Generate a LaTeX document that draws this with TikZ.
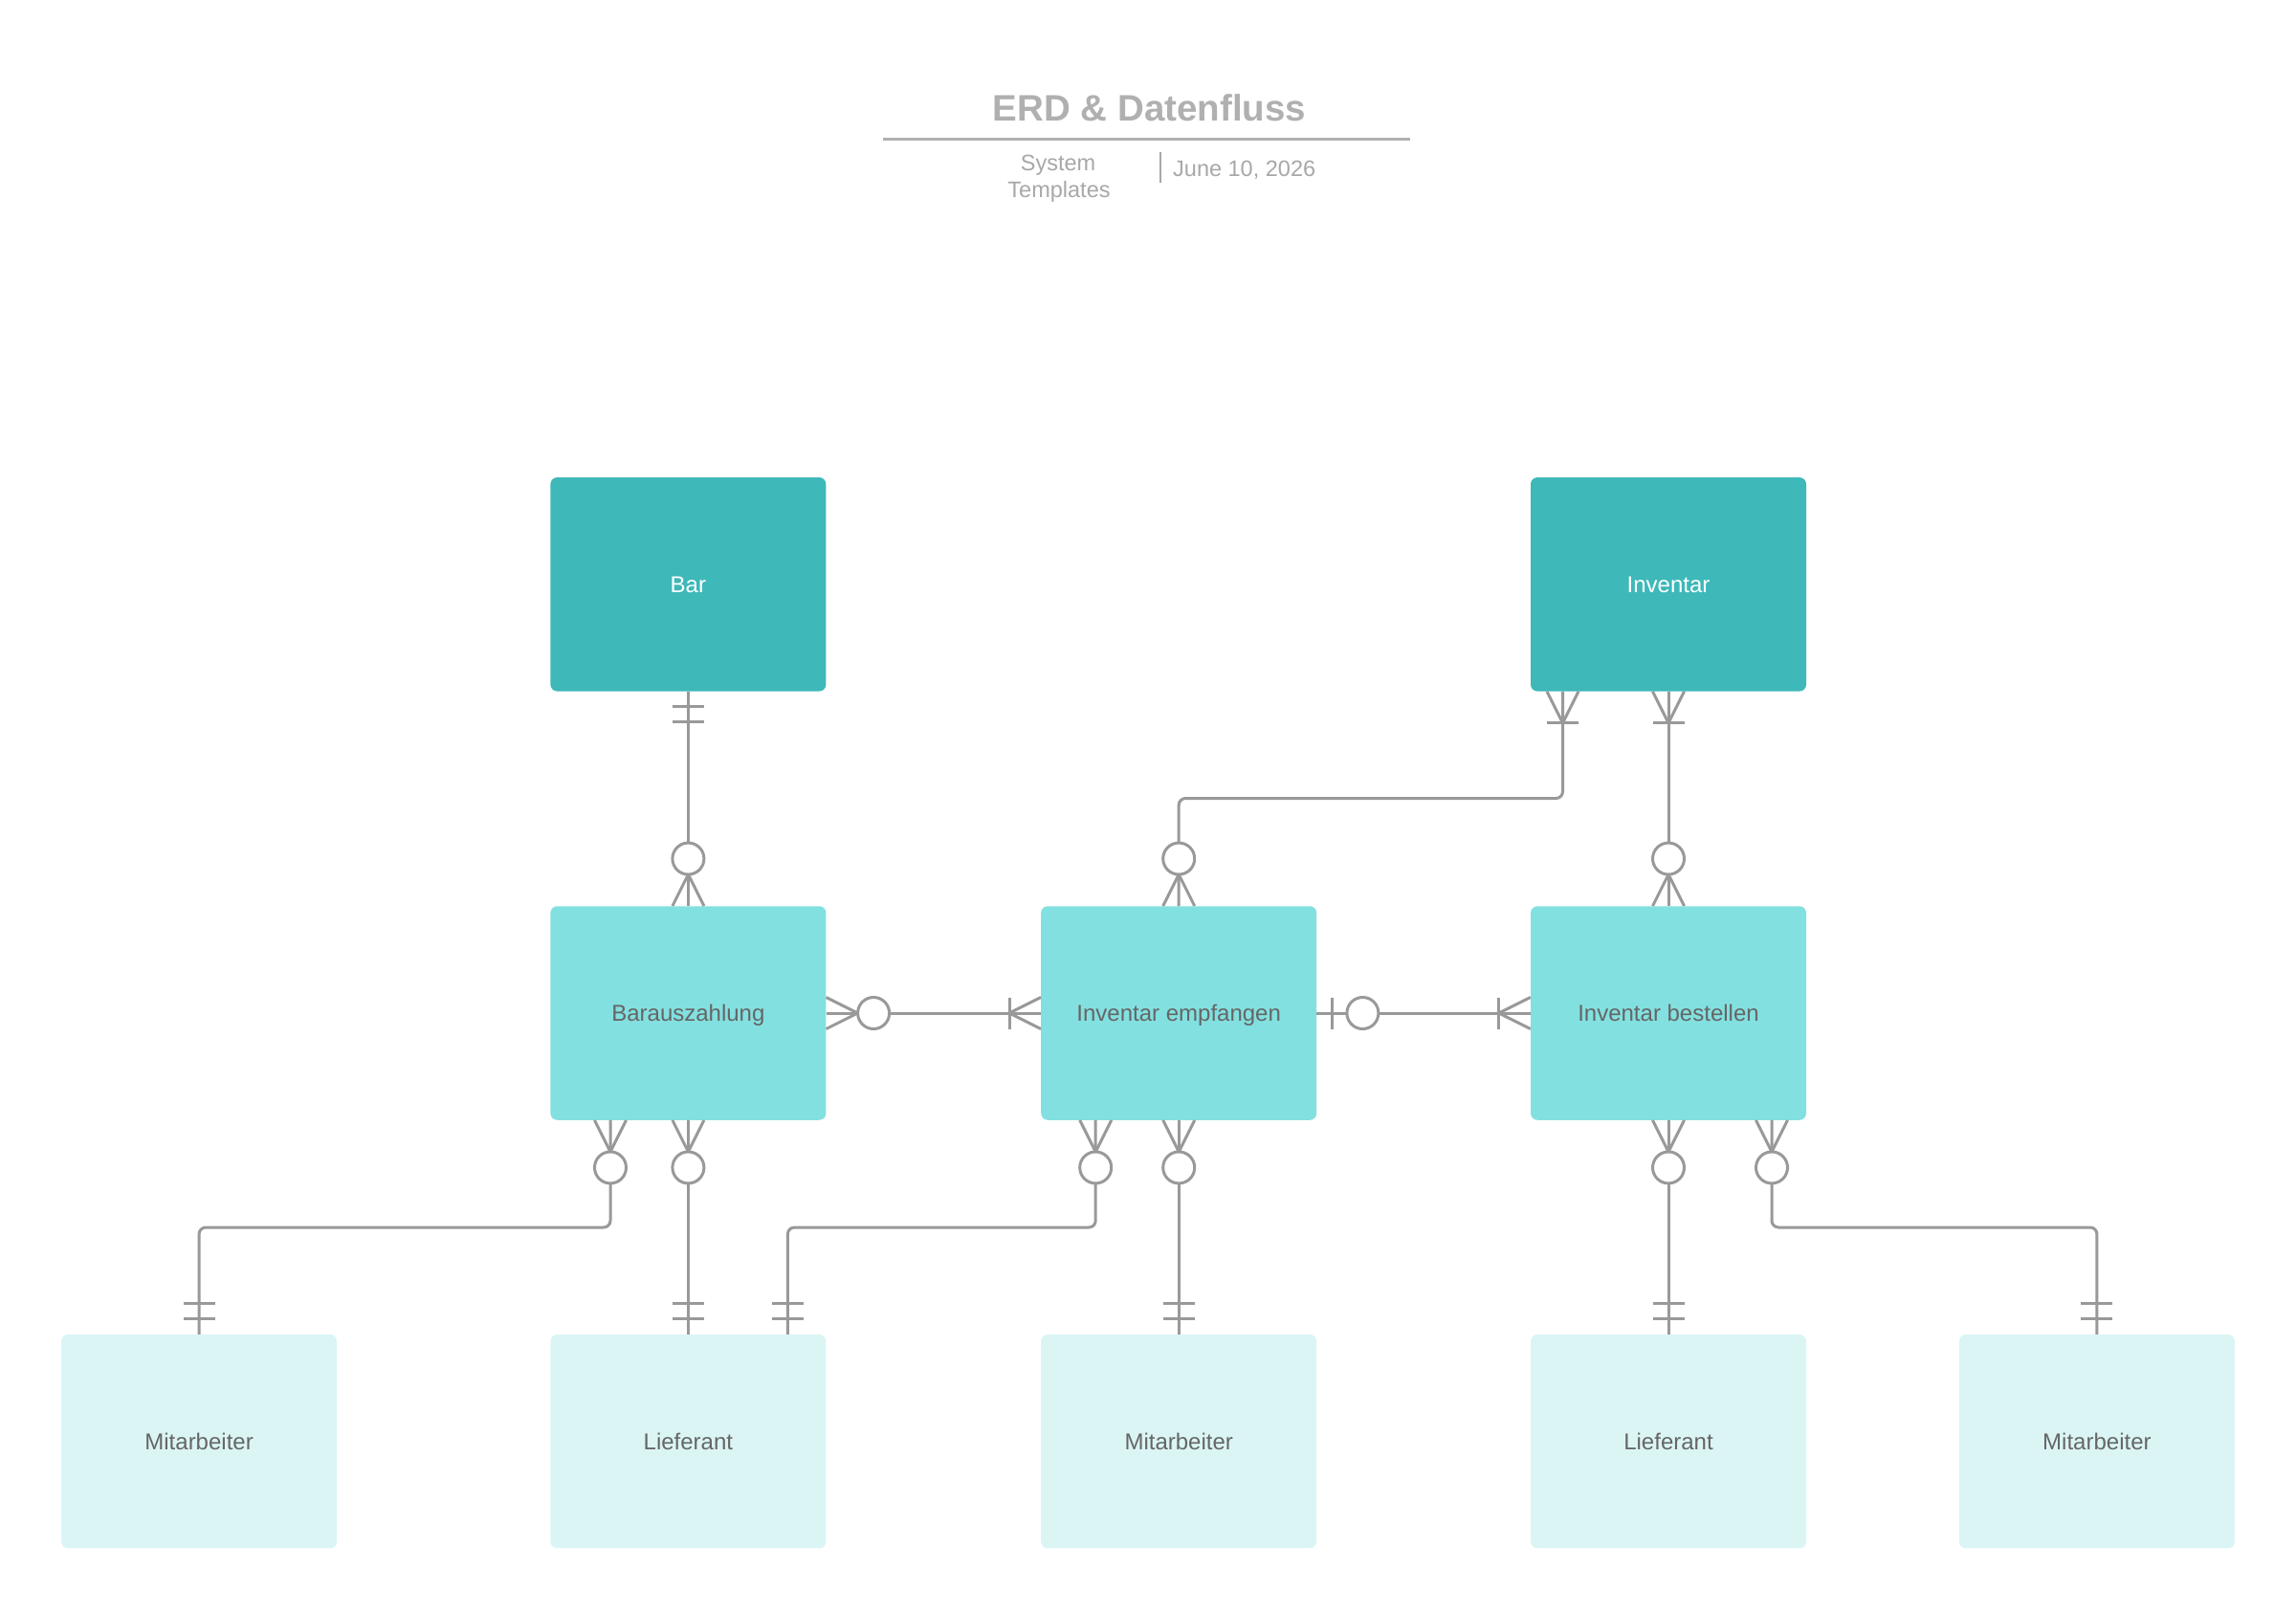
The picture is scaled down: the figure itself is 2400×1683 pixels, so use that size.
\documentclass[tikz,border=0pt]{standalone}
\usepackage{fontspec}
\setmainfont{Liberation Sans}
\usetikzlibrary{calc}
\definecolor{lc}{HTML}{999999}
\definecolor{tealD}{HTML}{3EB8B9}
\definecolor{tealM}{HTML}{83E0E0}
\definecolor{tealL}{HTML}{DBF5F5}
\definecolor{txtD}{HTML}{666666}
\definecolor{titleC}{HTML}{B0B0B0}
\definecolor{subC}{HTML}{A8A8A8}
\tikzset{
  conn/.style={draw=lc, line width=3pt},
  entbox/.style={rectangle, rounded corners=7pt, minimum width=288pt, minimum height=223.5pt, inner sep=0pt, text height=17pt, text depth=0pt, font=\fontsize{24}{28}\selectfont},
  entDark/.style={entbox, fill=tealD, text=white},
  entMid/.style={entbox, fill=tealM, text=txtD},
  entLight/.style={entbox, fill=tealL, text=txtD},
  subtxt/.style={font=\fontsize{23.5}{28}\selectfont, text=subC, inner sep=0pt},
  pics/erOneOnly/.style={code={
    \draw[conn] (16,-16.5) -- (16,16.5) (32,-16.5) -- (32,16.5);
  }},
  pics/erZeroMany/.style={code={
    \draw[conn] (0,16.5) -- (33,0) -- (0,-16.5);
    \draw[conn, fill=white] (49.5,0) circle[radius=16.5pt];
  }},
  pics/erOneMany/.style={code={
    \draw[conn] (0,16.5) -- (33,0) -- (0,-16.5);
    \draw[conn] (33,-16.5) -- (33,16.5);
  }},
  pics/erZeroOne/.style={code={
    \draw[conn] (16,-16.5) -- (16,16.5);
    \draw[conn, fill=white] (48,0) circle[radius=16.5pt];
  }},
}
\begin{document}
\begin{tikzpicture}[x=1pt,y=-1pt]
\fill[white] (0,0) rectangle (2400,1683);
\useasboundingbox (0,0) rectangle (2400,1683);

% title block
\node[font=\bfseries\fontsize{38.5}{42}\selectfont, text=titleC, anchor=base, inner sep=0pt] (title) at (1201.5,127) {ERD \& Datenfluss};
\coordinate (tl1) at (923,145.4);
\coordinate (tl2) at (1474,145.4);
\draw[draw=titleC, line width=3pt] (tl1) -- (tl2);
\node[subtxt, anchor=base] (sub1) at (1106,178.3) {System};
\node[subtxt, anchor=base] (sub2) at (1107,206.5) {Templates};
\coordinate (dv1) at (1213,159);
\coordinate (dv2) at (1213,190.7);
\draw[draw=subC, line width=2pt] (dv1) -- (dv2);
\node[subtxt, anchor=base west] (date) at (1226,184) {June 10, 2026};

% entities
\node[entDark] (bar) at (719.4,610.8) {Bar};
\node[entDark] (inv) at (1744,610.8) {Inventar};
\node[entMid] (bza) at (719.4,1059) {Barauszahlung};
\node[entMid] (emp) at (1232.2,1059) {Inventar empfangen};
\node[entMid] (bes) at (1744,1059) {Inventar bestellen};
\node[entLight] (m1) at (208.1,1506.7) {Mitarbeiter};
\node[entLight] (l1) at (719.4,1506.7) {Lieferant};
\node[entLight] (m2) at (1232.2,1506.7) {Mitarbeiter};
\node[entLight] (l2) at (1744,1506.7) {Lieferant};
\node[entLight] (m3) at (2191.9,1506.7) {Mitarbeiter};

% ports and routing levels
\coordinate (h1) at (0,834.5);
\coordinate (h2) at (0,1283);
\coordinate (invS1) at ([xshift=-110.5pt]inv.south);
\coordinate (bzaS1) at ([xshift=-81.4pt]bza.south);
\coordinate (empS1) at ([xshift=-87pt]emp.south);
\coordinate (besS2) at ([xshift=108pt]bes.south);
\coordinate (l1N2) at ([xshift=104pt]l1.north);

% connectors
\draw[conn] (bar.south) -- (bza.north);
\draw[conn, rounded corners=7pt] (invS1) -- (invS1 |- h1) -| (emp.north);
\draw[conn] (inv.south) -- (bes.north);
\draw[conn] (bza.east) -- (emp.west);
\draw[conn] (emp.east) -- (bes.west);
\draw[conn, rounded corners=7pt] (bzaS1) -- (bzaS1 |- h2) -| (m1.north);
\draw[conn] (bza.south) -- (l1.north);
\draw[conn, rounded corners=7pt] (empS1) -- (empS1 |- h2) -| (l1N2);
\draw[conn] (emp.south) -- (m2.north);
\draw[conn] (bes.south) -- (l2.north);
\draw[conn, rounded corners=7pt] (besS2) -- (besS2 |- h2) -| (m3.north);

% end markers
\pic[rotate=-90] at (bar.south) {erOneOnly};
\pic[rotate=90] at (bza.north) {erZeroMany};
\pic[rotate=-90] at (invS1) {erOneMany};
\pic[rotate=90] at (emp.north) {erZeroMany};
\pic[rotate=-90] at (inv.south) {erOneMany};
\pic[rotate=90] at (bes.north) {erZeroMany};
\pic at (bza.east) {erZeroMany};
\pic[rotate=180] at (emp.west) {erOneMany};
\pic at (emp.east) {erZeroOne};
\pic[rotate=180] at (bes.west) {erOneMany};
\pic[rotate=-90] at (bzaS1) {erZeroMany};
\pic[rotate=90] at (m1.north) {erOneOnly};
\pic[rotate=-90] at (bza.south) {erZeroMany};
\pic[rotate=90] at (l1.north) {erOneOnly};
\pic[rotate=-90] at (empS1) {erZeroMany};
\pic[rotate=90] at (l1N2) {erOneOnly};
\pic[rotate=-90] at (emp.south) {erZeroMany};
\pic[rotate=90] at (m2.north) {erOneOnly};
\pic[rotate=-90] at (bes.south) {erZeroMany};
\pic[rotate=90] at (l2.north) {erOneOnly};
\pic[rotate=-90] at (besS2) {erZeroMany};
\pic[rotate=90] at (m3.north) {erOneOnly};
\end{tikzpicture}
\end{document}
